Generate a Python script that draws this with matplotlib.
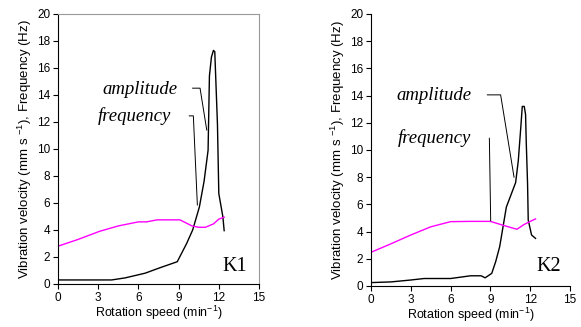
import matplotlib
matplotlib.use("Agg")
import matplotlib.pyplot as plt

plt.rcParams['font.family'] = ['Liberation Sans', 'DejaVu Sans']
plt.rcParams['mathtext.fontset'] = 'custom'
plt.rcParams['mathtext.rm'] = 'Liberation Sans'
plt.rcParams['mathtext.it'] = 'Liberation Sans:italic'

# K1 data
k1_amp_x = [0, 2, 4, 5, 6.5, 7.6, 8.9, 9.6, 10.05, 10.55, 10.9, 11.2, 11.3, 11.45, 11.6, 11.7,
            11.8, 11.9, 12.0, 12.3, 12.4]
k1_amp_y = [0.3, 0.3, 0.3, 0.45, 0.8, 1.2, 1.65, 3.0, 4.0, 5.7, 7.6, 9.9, 15.4, 16.8, 17.3, 17.2,
            14.5, 11.8, 6.7, 5.0, 3.95]
k1_freq_x = [0, 1.5, 3.1, 4.5, 6.0, 6.6, 7.4, 8.5, 9.1, 10.0, 10.5, 11.0, 11.6, 12.0, 12.4]
k1_freq_y = [2.8, 3.3, 3.9, 4.3, 4.6, 4.6, 4.75, 4.75, 4.75, 4.3, 4.2, 4.2, 4.45, 4.8, 4.95]

# K2 data
k2_amp_x = [0, 1.5, 3, 4, 6, 7.5, 8.3, 8.6, 9.1, 9.4, 9.7, 10.2, 10.9, 11.1, 11.3, 11.4, 11.55,
            11.65, 11.7, 11.8, 11.85, 12.1, 12.4]
k2_amp_y = [0.25, 0.3, 0.44, 0.55, 0.55, 0.75, 0.75, 0.6, 0.93, 1.8, 2.9, 5.8, 7.6, 9.2, 11.8, 13.2, 13.2,
            12.6, 10.6, 7.5, 4.85, 3.75, 3.5]
k2_freq_x = [0, 1.5, 3, 4.5, 6.0, 7.5, 9.0, 10.0, 11.0, 11.5, 12.0, 12.4]
k2_freq_y = [2.48, 3.1, 3.75, 4.35, 4.73, 4.75, 4.75, 4.45, 4.17, 4.5, 4.75, 4.93]

x_ticks = [0, 3, 6, 9, 12, 15]
y_ticks = [0, 2, 4, 6, 8, 10, 12, 14, 16, 18, 20]

fig = plt.figure(figsize=(5.81, 3.27), dpi=100)
ax1 = fig.add_axes([0.0998, 0.1315, 0.346, 0.826])
ax2 = fig.add_axes([0.6386, 0.1254, 0.3425, 0.832])


def setup(ax, box):
    ax.set_xlim(0, 15)
    ax.set_ylim(0, 20)
    ax.set_xticks(x_ticks)
    ax.set_yticks(y_ticks)
    ax.tick_params(direction='out', length=3.5, width=0.8, labelsize=8.5, pad=2)
    ax.set_xlabel('Rotation speed (min$^{-1}$)', fontsize=9, labelpad=0)
    ax.set_ylabel('Vibration velocity (mm s $^{-1}$), Frequency (Hz)', fontsize=9.5, labelpad=2)
    if box:
        ax.spines['top'].set_color('#999999')
        ax.spines['right'].set_color('#999999')
    else:
        ax.spines['top'].set_visible(False)
        ax.spines['right'].set_visible(False)


serif = dict(family=['Liberation Serif', 'DejaVu Serif'])

setup(ax1, True)
ax1.plot(k1_amp_x, k1_amp_y, color='black', lw=1.0)
ax1.plot(k1_freq_x, k1_freq_y, color='magenta', lw=1.0)
ax1.plot([10.05, 10.6, 11.1], [14.5, 14.5, 11.4], color='black', lw=0.7)
ax1.plot([9.8, 10.1, 10.4], [12.45, 12.45, 5.85], color='black', lw=0.7)
ax1.text(3.3, 14.4, 'amplitude', fontsize=13.5, style='italic', va='center', **serif)
ax1.text(3.0, 12.4, 'frequency', fontsize=13.5, style='italic', va='center', **serif)
ax1.text(12.3, 1.3, 'K1', fontsize=14.5, va='center', **serif)

setup(ax2, False)
ax2.plot(k2_amp_x, k2_amp_y, color='black', lw=1.0)
ax2.plot(k2_freq_x, k2_freq_y, color='magenta', lw=1.0)
ax2.plot([8.77, 9.77, 10.78], [14.05, 14.05, 8.0], color='black', lw=0.7)
ax2.plot([8.92, 9.02], [10.86, 4.8], color='black', lw=0.7)
ax2.text(1.95, 14.0, 'amplitude', fontsize=13.5, style='italic', va='center', **serif)
ax2.text(2.0, 10.9, 'frequency', fontsize=13.5, style='italic', va='center', **serif)
ax2.text(12.45, 1.4, 'K2', fontsize=14.5, va='center', **serif)

fig.savefig('out.png', dpi=100)
